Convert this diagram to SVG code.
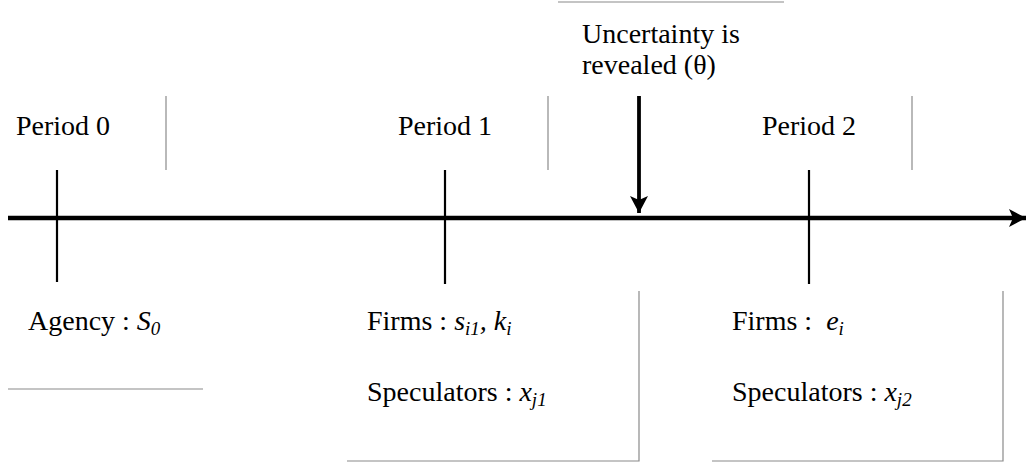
<svg xmlns="http://www.w3.org/2000/svg" width="1032" height="466" viewBox="0 0 1032 466">
<style>
text{font-family:"Liberation Serif","Times New Roman",serif;font-size:28px;fill:#000}
.it{font-style:italic}
.sub{font-size:19px;font-style:italic}
.tick{stroke:#000;stroke-width:2.2}
.edge{stroke:#8a8a8a;stroke-width:1.2;fill:none}
</style>
<defs>
<marker id="ah" markerUnits="userSpaceOnUse" markerWidth="20" markerHeight="20" viewBox="0 0 20 20" refX="17" refY="10" orient="auto">
<path d="M0,1 L17,10 L0,19 L4,10 Z" fill="#000"/>
</marker>
</defs>
<g id="connectors">
<line x1="8" y1="218" x2="1026" y2="218" stroke="#000" stroke-width="4.5" marker-end="url(#ah)"/>
<line x1="639" y1="96" x2="639" y2="213" stroke="#000" stroke-width="3.8" marker-end="url(#ah)"/>
</g>
<g id="ticks">
<line class="tick" x1="57" y1="170" x2="57" y2="282"/>
<line class="tick" x1="445" y1="170" x2="445" y2="284"/>
<line class="tick" x1="809" y1="170" x2="809" y2="284"/>
</g>
<g id="period0">
<text x="16" y="135">Period 0</text>
<line class="edge" x1="166" y1="96" x2="166" y2="170"/>
</g>
<g id="period1">
<text x="398" y="135">Period 1</text>
<line class="edge" x1="548" y1="96" x2="548" y2="170"/>
</g>
<g id="period2">
<text x="762" y="135">Period 2</text>
<line class="edge" x1="912" y1="96" x2="912" y2="170"/>
</g>
<g id="uncertainty">
<line class="edge" x1="558" y1="2" x2="784" y2="2"/>
<text x="582" y="43">Uncertainty is</text>
<text x="582" y="74">revealed (θ)</text>
</g>
<g id="agency">
<text x="28" y="330">Agency : <tspan class="it">S</tspan><tspan class="sub" dy="5">0</tspan></text>
<line class="edge" x1="8" y1="389" x2="203" y2="389"/>
</g>
<g id="firms1">
<text x="367" y="330">Firms : <tspan class="it">s</tspan><tspan class="sub" dy="5">i1</tspan><tspan class="it" dy="-5">, k</tspan><tspan class="sub" dy="5">i</tspan></text>
<text x="367" y="401">Speculators : <tspan class="it">x</tspan><tspan class="sub" dy="5">j1</tspan></text>
<polyline class="edge" points="639,291 639,461 347,461"/>
</g>
<g id="firms2">
<text x="732" y="330" xml:space="preserve">Firms :  <tspan class="it">e</tspan><tspan class="sub" dy="5">i</tspan></text>
<text x="732" y="401">Speculators : <tspan class="it">x</tspan><tspan class="sub" dy="5">j2</tspan></text>
<polyline class="edge" points="1003,291 1003,461 712,461"/>
</g>
</svg>
